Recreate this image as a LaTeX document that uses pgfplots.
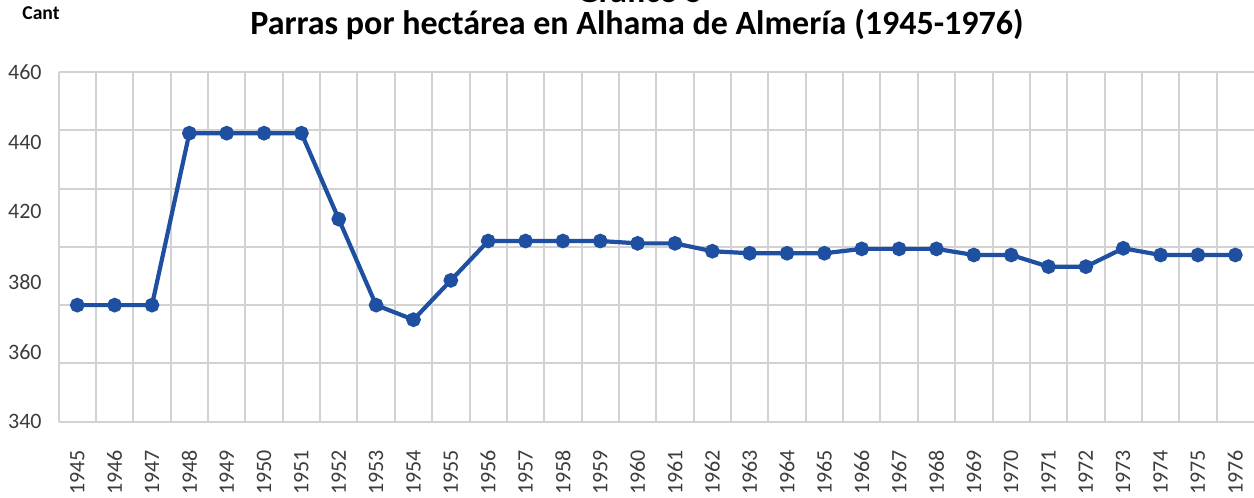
\documentclass[border=0pt]{standalone}
\usepackage{fontspec}
\setmainfont{Carlito}
\usepackage{pgfplots}
\pgfplotsset{compat=1.18}
\definecolor{lineblue}{RGB}{31,79,160}
\definecolor{gridgray}{RGB}{210,210,210}
\definecolor{labelgray}{RGB}{60,60,60}
\begin{document}
\begin{tikzpicture}
\path[use as bounding box] (0,0) rectangle (627pt,249pt);
\begin{axis}[
  at={(29.3pt,38.15pt)}, anchor=south west,
  scale only axis, width=597.7pt, height=174.85pt,
  xmin=1944.5, xmax=1976.5, ymin=340, ymax=460,
  axis line style={draw=none},
  tick style={draw=none},
  xtick={1945,...,1976},
  minor xtick={1944.5,1945.5,...,1975.5},
  xminorgrids,
  ytick={340,364,388,412,436,460},
  yticklabels={340,360,380,420,440,460},
  minor ytick={340,360,...,460},
  yminorgrids,
  minor grid style={gridgray, line width=1pt},
  /pgf/number format/assume math mode=true,
  /pgf/number format/set thousands separator={},
  yticklabel style={anchor=east, inner sep=0pt, xshift=-8.3pt, font=\fontsize{11}{13}\selectfont, text=labelgray},
  xticklabel style={rotate=90, anchor=east, inner sep=0pt, font=\fontsize{11}{13}\selectfont, text=labelgray},
  xticklabel shift=14pt,
  clip=false,
]
\addplot[lineblue, line width=2.1pt, mark=*, mark size=2.6pt, mark options={fill=lineblue, draw=lineblue}] coordinates {
(1945,380) (1946,380) (1947,380) (1948,439) (1949,439) (1950,439) (1951,439)
(1952,409.5) (1953,380) (1954,375) (1955,388.5) (1956,402) (1957,402) (1958,402)
(1959,402) (1960,401.2) (1961,401.2) (1962,398.5) (1963,397.8) (1964,397.8)
(1965,397.8) (1966,399.3) (1967,399.3) (1968,399.3) (1969,397.2) (1970,397.2)
(1971,393.2) (1972,393.2) (1973,399.5) (1974,397.2) (1975,397.2) (1976,397.2)
};
\end{axis}
\node[font=\bfseries\fontsize{17}{20}\selectfont, anchor=base] at (320pt,247.5pt) {Gráfico 5};
\node[font=\bfseries\fontsize{17}{20}\selectfont, anchor=base] at (318.5pt,231.5pt) {Parras por hectárea en Alhama de Almería (1945-1976)};
\node[font=\bfseries\fontsize{9.8}{11}\selectfont, anchor=base west, inner sep=0pt] at (11pt,239pt) {Cant};
\end{tikzpicture}
\end{document}
